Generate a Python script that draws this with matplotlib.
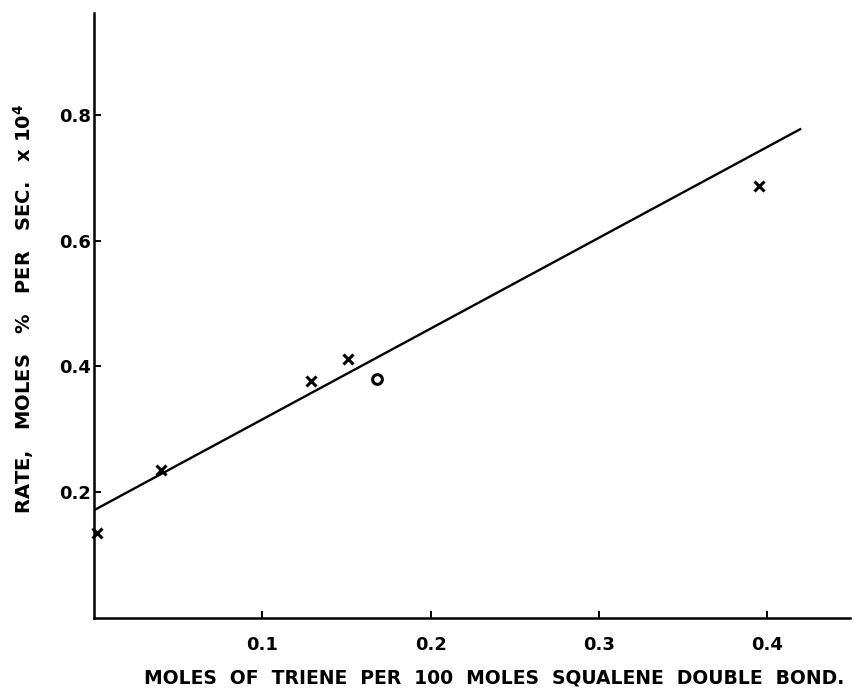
import matplotlib
matplotlib.use('Agg')
import matplotlib.pyplot as plt

# data
triene_cross = [0.002, 0.040, 0.129, 0.151, 0.395]
rate_cross = [0.135, 0.235, 0.377, 0.412, 0.687]
triene_circle = [0.168]
rate_circle = [0.380]
fit_x = [0.0, 0.42]
fit_y = [0.171, 0.778]
x_ticks = [0.1, 0.2, 0.3, 0.4]
x_ticklabels = ['0.1', '0.2', '0.3', '0.4']
y_ticks = [0.2, 0.4, 0.6, 0.8]
y_ticklabels = ['0.2', '0.4', '0.6', '0.8']

W, H = 855, 690
fig = plt.figure(figsize=(W / 100, H / 100), dpi=100)
fig.patch.set_facecolor('white')
ax = fig.add_axes([94 / W, (H - 617.7) / H, (850 - 94) / W, (617.7 - 13) / H])
ax.set_xlim(0, 0.449)
ax.set_ylim(0, 0.962)

ax.plot(fit_x, fit_y, color='black', lw=1.7, solid_capstyle='butt')
ax.plot(triene_cross, rate_cross, linestyle='none', marker='x', ms=7,
        mew=2.2, color='black', clip_on=False)
ax.plot(triene_circle, rate_circle, linestyle='none', marker='o', ms=7,
        mew=2.2, mfc='white', mec='black', clip_on=False)

for s in ['top', 'right']:
    ax.spines[s].set_visible(False)
for s in ['left', 'bottom']:
    ax.spines[s].set_linewidth(1.8)

font = dict(family='DejaVu Sans', weight='bold')
ax.set_xticks(x_ticks)
ax.set_xticklabels(x_ticklabels, fontsize=13, **font)
ax.set_yticks(y_ticks)
ax.set_yticklabels(y_ticklabels, fontsize=13, **font)
ax.tick_params(axis='both', direction='in', length=5, width=1.4)
ax.tick_params(axis='x', pad=13)
ax.tick_params(axis='y', pad=2)

fig.text(494 / W, 1 - 678 / H,
         'MOLES  OF  TRIENE  PER  100  MOLES  SQUALENE  DOUBLE  BOND.',
         ha='center', va='center', fontsize=13.5, **font)
fig.text(24 / W, 1 - 309 / H,
         'RATE,   MOLES   %   PER   SEC.   x 10$^{\\mathbf{4}}$',
         ha='center', va='center', rotation=90, fontsize=14, **font)

fig.savefig('out.png', dpi=100, facecolor='white')
